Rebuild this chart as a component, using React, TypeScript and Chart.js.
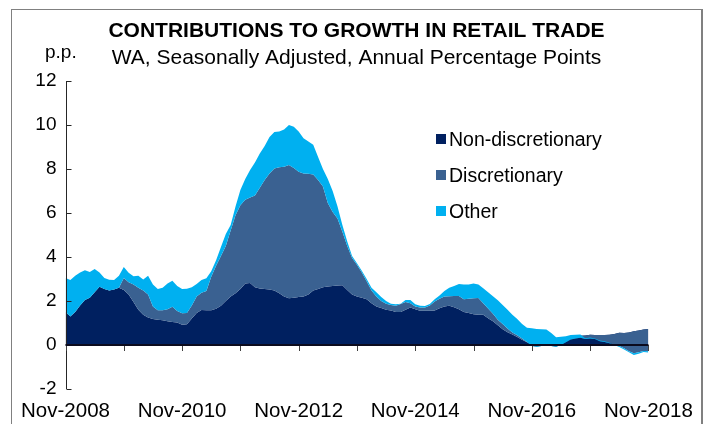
import React, { useEffect, useRef } from 'react';
import { Chart, registerables } from 'chart.js';

Chart.register(...registerables);

const TITLE = 'CONTRIBUTIONS TO GROWTH IN RETAIL TRADE';
const SUBTITLE = 'WA, Seasonally Adjusted, Annual Percentage Points';
const Y_UNIT = 'p.p.';

const MONTH_NAMES = ['Jan', 'Feb', 'Mar', 'Apr', 'May', 'Jun', 'Jul', 'Aug', 'Sep', 'Oct', 'Nov', 'Dec'];
// Monthly categories, Nov-2008 .. Nov-2018
const CATEGORIES: string[] = Array.from({ length: 121 }, (_, i) => {
  const k = 10 + i;
  return `${MONTH_NAMES[k % 12]}-${2008 + Math.floor(k / 12)}`;
});

const X_TICK_LABELS = ['Nov-2008', 'Nov-2010', 'Nov-2012', 'Nov-2014', 'Nov-2016', 'Nov-2018'];
const Y_MIN = -2;
const Y_MAX = 12;
const Y_STEP = 2;

const SERIES_NAMES = ['Non-discretionary', 'Discretionary', 'Other'];
const SERIES_COLORS = ['#002060', '#3A6191', '#00B0F0'];

const NON_DISCRETIONARY = [
  1.50, 1.30, 1.50, 1.80, 2.05, 2.15, 2.40, 2.65, 2.55, 2.48, 2.52, 2.60,
  2.50, 2.30, 1.95, 1.60, 1.38, 1.25, 1.18, 1.15, 1.12, 1.08, 1.05, 1.02,
  0.92, 0.94, 1.20, 1.45, 1.59, 1.58, 1.58, 1.65, 1.78, 2.00, 2.20, 2.35,
  2.55, 2.80, 2.82, 2.62, 2.57, 2.55, 2.52, 2.48, 2.35, 2.20, 2.13, 2.15,
  2.18, 2.20, 2.30, 2.48, 2.55, 2.62, 2.66, 2.68, 2.70, 2.72, 2.50, 2.30,
  2.20, 2.15, 2.08, 1.90, 1.75, 1.68, 1.60, 1.57, 1.50, 1.50, 1.60, 1.70,
  1.62, 1.56, 1.56, 1.56, 1.57, 1.67, 1.75, 1.78, 1.72, 1.62, 1.50, 1.45,
  1.40, 1.38, 1.38, 1.22, 1.08, 0.90, 0.72, 0.58, 0.48, 0.36, 0.24, 0.12,
  0.05, 0.04, 0.02, 0.00, 0.00, 0.00, 0.06, 0.20, 0.30, 0.36, 0.42, 0.43,
  0.47, 0.46, 0.45, 0.45, 0.47, 0.50, 0.56, 0.55, 0.57, 0.62, 0.66, 0.70,
  0.73,
];

const DISCRETIONARY = [
  0.00, 0.00, 0.00, 0.00, 0.00, 0.00, 0.00, 0.00, 0.00, 0.00, 0.00, 0.00,
  0.55, 0.55, 0.80, 1.00, 1.10, 1.05, 0.57, 0.43, 0.46, 0.54, 0.69, 0.53,
  0.52, 0.52, 0.60, 0.75, 0.79, 0.87, 1.52, 1.95, 2.27, 2.50, 3.00, 3.55,
  3.80, 3.80, 3.88, 4.18, 4.58, 4.95, 5.28, 5.54, 5.73, 5.90, 6.05, 5.90,
  5.70, 5.60, 5.48, 5.27, 4.95, 4.58, 3.79, 3.37, 3.05, 2.43, 2.00, 1.65,
  1.45, 1.15, 0.82, 0.58, 0.45, 0.32, 0.27, 0.25, 0.28, 0.36, 0.35, 0.20,
  0.13, 0.15, 0.15, 0.24, 0.41, 0.43, 0.45, 0.44, 0.51, 0.61, 0.58, 0.65,
  0.72, 0.76, 0.52, 0.44, 0.34, 0.25, 0.23, 0.17, 0.09, 0.08, 0.06, 0.02,
  -0.10, -0.12, -0.06, -0.03, -0.05, -0.08, -0.06, -0.08, -0.05, -0.06, -0.09, -0.16,
  -0.17, -0.19, -0.28, -0.31, -0.39, -0.48, -0.61, -0.70, -0.85, -1.00, -0.99, -0.97,
  -1.01,
];

const OTHER = [
  1.55, 1.65, 1.65, 1.50, 1.35, 1.17, 1.05, 0.65, 0.50, 0.49, 0.43, 0.55,
  0.50, 0.43, 0.37, 0.55, 0.50, 0.85, 1.00, 0.97, 1.02, 1.18, 1.18, 1.13,
  1.11, 1.10, 0.82, 0.57, 0.57, 0.58, 0.25, 0.25, 0.40, 0.55, 0.25, 0.40,
  0.70, 0.95, 1.25, 1.50, 1.55, 1.55, 1.65, 1.66, 1.62, 1.70, 1.82, 1.87,
  1.82, 1.60, 1.47, 1.35, 1.05, 0.80, 1.10, 0.95, 0.55, 0.30, 0.20, 0.10,
  0.07, 0.08, 0.10, 0.12, 0.20, 0.18, 0.13, 0.05, 0.07, 0.02, 0.10, 0.15,
  0.10, 0.07, 0.06, 0.06, 0.10, 0.15, 0.25, 0.38, 0.45, 0.54, 0.67, 0.65,
  0.68, 0.61, 0.68, 0.74, 0.80, 0.88, 0.87, 0.85, 0.81, 0.74, 0.65, 0.64,
  0.81, 0.81, 0.76, 0.73, 0.60, 0.43, 0.37, 0.28, 0.20, 0.17, 0.15, 0.04,
  0.04, 0.03, 0.03, 0.03, 0.02, -0.02, -0.04, -0.05, -0.05, -0.07, -0.07, -0.05,
  -0.06,
];

const FONT = "'Liberation Sans', Arial, Helvetica, sans-serif";

const decorPlugin = {
  id: 'decor',
  afterDatasetsDraw(chart: any) {
    const { ctx, chartArea, scales } = chart;
    const xs = scales.x;
    const ys = scales.y;
    const y0 = ys.getPixelForValue(0);
    ctx.save();
    // y axis line with inward ticks
    ctx.strokeStyle = '#262626';
    ctx.lineWidth = 1;
    const ax = Math.round(chartArea.left) + 0.5;
    ctx.beginPath();
    ctx.moveTo(ax, ys.getPixelForValue(Y_MAX));
    ctx.lineTo(ax, ys.getPixelForValue(Y_MIN));
    for (let v = Y_MIN; v <= Y_MAX; v += Y_STEP) {
      const py = Math.round(ys.getPixelForValue(v)) + 0.5;
      ctx.moveTo(ax, py);
      ctx.lineTo(ax + 5, py);
    }
    ctx.stroke();
    // yearly tick marks below the zero line
    ctx.strokeStyle = '#404040';
    ctx.beginPath();
    CATEGORIES.forEach((c, i) => {
      if (c.startsWith('Nov')) {
        const px = Math.round(xs.getPixelForValue(i)) + 0.5;
        ctx.moveTo(px, y0);
        ctx.lineTo(px, y0 + 6);
      }
    });
    ctx.stroke();
    // zero line
    ctx.strokeStyle = '#0b0b1e';
    ctx.lineWidth = 2;
    ctx.beginPath();
    ctx.moveTo(chartArea.left, y0);
    ctx.lineTo(chartArea.right, y0);
    ctx.stroke();
    ctx.restore();
  },
  afterDraw(chart: any) {
    const { ctx, width } = chart;
    ctx.save();
    // frame
    ctx.strokeStyle = '#808080';
    ctx.lineWidth = 1;
    ctx.strokeRect(11.5, 9.5, 691, 600);
    ctx.lineWidth = 2;
    ctx.beginPath();
    ctx.moveTo(702, 9);
    ctx.lineTo(702, 600);
    ctx.stroke();
    // titles
    ctx.fillStyle = '#000';
    ctx.textBaseline = 'alphabetic';
    ctx.textAlign = 'center';
    ctx.font = `bold 21px ${FONT}`;
    ctx.fillText(TITLE, width / 2, 37);
    ctx.font = `21px ${FONT}`;
    ctx.fillText(SUBTITLE, width / 2, 64);
    ctx.textAlign = 'left';
    ctx.font = `19px ${FONT}`;
    ctx.fillText(Y_UNIT, 45, 58);
    // legend
    ctx.font = `19.5px ${FONT}`;
    SERIES_NAMES.forEach((name, i) => {
      const base = 146 + i * 36;
      ctx.fillStyle = SERIES_COLORS[i];
      ctx.fillRect(436, base - 12, 10, 10);
      ctx.fillStyle = '#000';
      ctx.fillText(name, 449, base);
    });
    ctx.restore();
  },
};

export default function App() {
  const canvasRef = useRef<HTMLCanvasElement | null>(null);

  useEffect(() => {
    document.body.style.margin = '0';
    const canvas = canvasRef.current;
    if (!canvas) return;

    const cum1 = NON_DISCRETIONARY.slice();
    const cum2 = cum1.map((v, i) => v + DISCRETIONARY[i]);
    const cum3 = cum2.map((v, i) => v + OTHER[i]);

    const common = {
      borderColor: 'transparent',
      borderWidth: 1,
      pointRadius: 0,
      pointHoverRadius: 0,
      tension: 0,
    };

    const chart = new Chart(canvas, {
      type: 'line',
      data: {
        labels: CATEGORIES,
        datasets: [
          { ...common, label: SERIES_NAMES[2], data: cum3, backgroundColor: SERIES_COLORS[2], fill: 1 },
          { ...common, label: SERIES_NAMES[1], data: cum2, backgroundColor: SERIES_COLORS[1], fill: 2 },
          { ...common, label: SERIES_NAMES[0], data: cum1, backgroundColor: SERIES_COLORS[0], fill: 'origin' },
        ],
      },
      options: {
        responsive: false,
        animation: false,
        devicePixelRatio: 1,
        layout: { padding: { top: 81, right: 64.6, bottom: 0, left: 0 } },
        plugins: {
          legend: { display: false },
          title: { display: false },
          tooltip: { enabled: false },
        },
        scales: {
          x: {
            type: 'category',
            grid: { display: false, drawTicks: false },
            border: { display: false },
            ticks: {
              autoSkip: false,
              maxRotation: 0,
              minRotation: 0,
              padding: 10,
              color: '#000',
              font: { family: FONT, size: 20.5 },
              callback: function (this: any, value: any) {
                const lab = this.getLabelForValue(value);
                return X_TICK_LABELS.includes(lab) ? lab : '';
              },
            },
            afterFit: (s: any) => {
              s.height = 35;
            },
          },
          y: {
            type: 'linear',
            min: Y_MIN,
            max: Y_MAX,
            grid: { display: false, drawTicks: false },
            border: { display: false },
            ticks: {
              stepSize: Y_STEP,
              padding: 9,
              color: '#000',
              font: { family: FONT, size: 19 },
            },
            afterFit: (s: any) => {
              s.width = 65.5;
            },
          },
        },
      },
      plugins: [decorPlugin],
    });

    return () => chart.destroy();
  }, []);

  return (
    <div style={{ width: 713, height: 424 }}>
      <canvas ref={canvasRef} width={713} height={424} style={{ display: 'block' }} />
    </div>
  );
}
